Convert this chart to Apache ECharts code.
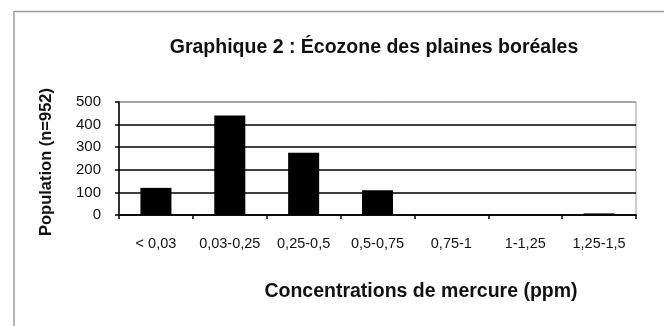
<!DOCTYPE html>
<html>
<head>
<meta charset="utf-8">
<script src="https://cdn.jsdelivr.net/npm/echarts@6/dist/echarts.min.js"></script>
<style>
  html, body { margin: 0; padding: 0; background: #fff; }
  #chart { width: 664px; height: 326px; }
</style>
</head>
<body>
<div id="chart"></div>
<script>
// Mercury concentration classes (ppm) and number of fish in each
const categories = ['< 0,03', '0,03-0,25', '0,25-0,5', '0,5-0,75', '0,75-1', '1-1,25', '1,25-1,5'];
const population = [120, 440, 275, 110, 0, 0, 7];
const yTicks = [0, 100, 200, 300, 400, 500];

const chart = echarts.init(document.getElementById('chart'), null, { renderer: 'canvas' });
const font = '"Liberation Sans", Arial, sans-serif';

chart.setOption({
  animation: false,
  backgroundColor: '#fff',
  title: [
    {
      text: 'Graphique 2 : Écozone des plaines boréales',
      left: 369, top: 33, textAlign: 'center',
      textStyle: { fontFamily: font, fontSize: 19.5, fontWeight: 'bold', color: '#111' }
    },
    {
      text: 'Concentrations de mercure (ppm)',
      left: 416, top: 277, textAlign: 'center',
      textStyle: { fontFamily: font, fontSize: 19.5, fontWeight: 'bold', color: '#111' }
    }
  ],
  graphic: [
    { type: 'line', shape: { x1: 14, y1: 11, x2: 14, y2: 326 }, style: { stroke: '#b5b5b5', lineWidth: 2 } },
    { type: 'line', shape: { x1: 14, y1: 11.5, x2: 664, y2: 11.5 }, style: { stroke: '#9a9a9a', lineWidth: 1.5 } },
    {
      type: 'text', x: 46, y: 162, rotation: Math.PI / 2, origin: [0, 0],
      style: {
        text: 'Population (n=952)', fontFamily: font, fontSize: 16.5, fontWeight: 'bold',
        fill: '#111', textAlign: 'center', textVerticalAlign: 'middle'
      }
    }
  ],
  grid: { left: 119, right: 28, top: 102, bottom: 111, show: true, borderColor: '#999', borderWidth: 1, backgroundColor: 'transparent' },
  xAxis: {
    type: 'category',
    data: categories,
    axisLine: { lineStyle: { color: '#000', width: 1.5 } },
    axisTick: { show: true, length: 4, inside: false, lineStyle: { color: '#000', width: 1.5 } },
    axisLabel: { interval: 0, hideOverlap: false, margin: 21, fontFamily: font, fontSize: 14.5, color: '#111' }
  },
  yAxis: {
    type: 'value',
    min: 0, max: 500, interval: 100,
    axisLine: { show: true, lineStyle: { color: '#000', width: 1.5 } },
    axisTick: { show: true, length: 4, lineStyle: { color: '#000', width: 1.5 } },
    axisLabel: {
      margin: 18, fontFamily: font, fontSize: 15, color: '#111',
      formatter: v => (yTicks.includes(v) ? String(v) : '')
    },
    splitLine: { show: true, lineStyle: { color: ['#000', '#000', '#000', '#000', '#000', '#999'], width: 1.5 } }
  },
  series: [{
    type: 'bar',
    data: population,
    barCategoryGap: '58%',
    itemStyle: { color: '#000' }
  }]
});
</script>
</body>
</html>
